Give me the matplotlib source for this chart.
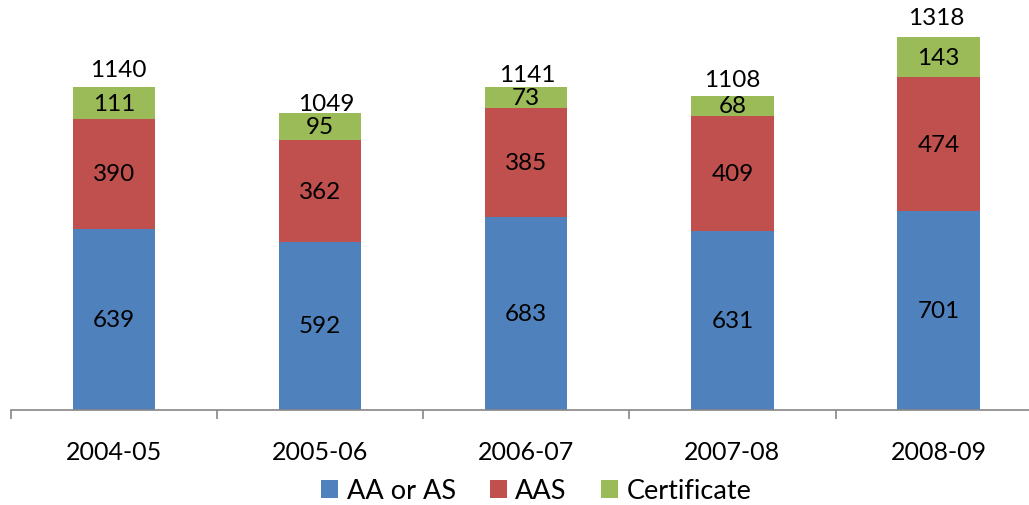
import matplotlib
matplotlib.use("Agg")
import matplotlib.pyplot as plt
from matplotlib.patches import Patch
import numpy as np

plt.rcParams['font.family'] = ['Lato', 'DejaVu Sans']

years = ["2004-05", "2005-06", "2006-07", "2007-08", "2008-09"]
aa_as = [639, 592, 683, 631, 701]
aas = [390, 362, 385, 409, 474]
certificate = [111, 95, 73, 68, 143]
totals = [1140, 1049, 1141, 1108, 1318]

series_names = ["AA or AS", "AAS", "Certificate"]
colors = ["#4F81BD", "#C0504D", "#9BBB59"]

# manual placement of total labels (offset in px above bar top, x shift in px)
total_dy = [18, 9.5, 13, 16.5, 19.5]
total_dx = [4, 6.5, 1.5, -0.5, -2]

W, H = 1029, 506
fig = plt.figure(figsize=(W / 100, H / 100), dpi=100)
ax_left = 10.7 / W
ax_bottom = (H - 410.7) / H
ax_width = 1031 / W
ax_height = 410.7 / H
ax = fig.add_axes([ax_left, ax_bottom, ax_width, ax_height])

x = np.arange(len(years))
width = 0.4
bottom = np.zeros(len(years))
for vals, col in zip([aa_as, aas, certificate], colors):
    vals = np.array(vals)
    ax.bar(x, vals, width, bottom=bottom, color=col, edgecolor='none', zorder=2)
    for xi, b, v in zip(x, bottom, vals):
        ax.text(xi, b + v / 2, str(v), ha='center', va='center',
                fontsize=17.5, color='black', zorder=3)
    bottom = bottom + vals

for xi, t, dy, dx in zip(x, totals, total_dy, total_dx):
    ax.annotate(str(t), xy=(xi, t), xytext=(dx * 0.72, dy * 0.72),
                textcoords='offset points', ha='center', va='center',
                fontsize=17.5, color='black')

ax.set_xlim(-0.5, len(years) - 0.5)
ax.set_ylim(0, 410.7 / 0.2828)

for s in ['top', 'right', 'left']:
    ax.spines[s].set_visible(False)
ax.spines['bottom'].set_color('#868686')
ax.spines['bottom'].set_linewidth(1.2)
ax.set_yticks([])

ax.set_xticks(x)
ax.set_xticklabels(years, fontsize=18)
ax.tick_params(axis='x', which='major', length=0, pad=22)
ax.set_xticks(np.arange(-0.5, len(years), 1.0), minor=True)
ax.tick_params(axis='x', which='minor', length=6.5, width=1.2, color='#868686', direction='out')

handles = [Patch(facecolor=c, edgecolor='none') for c in colors]
fig.legend(handles, series_names, loc='center', bbox_to_anchor=(0.521, 0.028),
           ncol=3, frameon=False, fontsize=19.5, handlelength=0.63, handleheight=0.63,
           handletextpad=0.32, columnspacing=1.25, borderpad=0, borderaxespad=0)

fig.savefig("out.png", dpi=100)
